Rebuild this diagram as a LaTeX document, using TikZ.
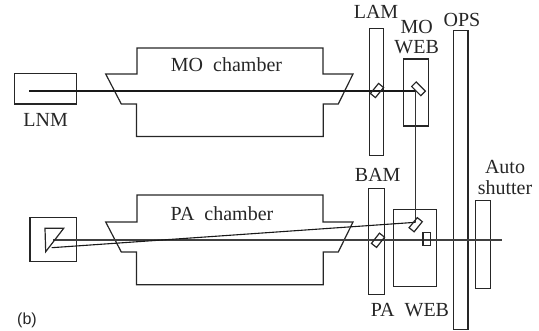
\documentclass[tikz,border=0pt]{standalone}
\usepackage{fontspec}
\setmainfont{Liberation Serif}
\newfontfamily\labelsans{Liberation Sans}
\tikzset{
  part/.style={draw=black!85,line width=1.2pt,inner sep=0pt,outer sep=0pt,fill=none},
  mirror/.style={part,minimum width=13pt,minimum height=6.5pt},
  chamber/.style={draw=black!85,line width=1.2pt,line join=miter},
  beam/.style={draw=black!90,line width=1.8pt},
  pabeam/.style={draw=black!75,line width=1.4pt},
  slantbeam/.style={draw=black!90,line width=1.1pt},
  thinbeam/.style={draw=black!80,line width=1pt},
  lbl/.style={inner sep=0pt,font=\fontsize{20}{20}\selectfont,text=black!85},
}
\begin{document}
\begin{tikzpicture}[x=1pt,y=-1pt]
\useasboundingbox (0,0) rectangle (539,331);
% chambers
\draw[chamber] (137,74) -- (137,48) -- (323,48) -- (323,74) -- (353,74) -- (338.3,104) -- (323.3,104) -- (323.3,136.5) -- (136.5,136.5) -- (136.5,104) -- (121.3,104) -- (105.7,74) -- cycle;
\draw[chamber] (137,222) -- (137,195) -- (323,195) -- (323,222) -- (353,222) -- (338.3,252) -- (323.3,252) -- (323.3,284.7) -- (136.5,284.7) -- (136.5,252) -- (121.3,252) -- (105.7,222) -- cycle;
% boxes
\node[part,minimum width=61.6pt,minimum height=30.7pt] (lnm) at (45.5,88.7) {};
\node[part,minimum width=13.6pt,minimum height=127pt] (lam) at (376.5,91.8) {};
\node[part,minimum width=25pt,minimum height=67pt] (moweb) at (416,92.5) {};
\node[part,minimum width=14.7pt,minimum height=298.6pt] (ops) at (460.7,180) {};
\node[part,minimum width=15pt,minimum height=87.6pt] (shutter) at (482.8,244.5) {};
\node[part,minimum width=16.4pt,minimum height=105.6pt] (bam) at (376.5,241.5) {};
\node[part,minimum width=43pt,minimum height=77pt] (paweb) at (415,247.9) {};
\node[part,minimum width=46.3pt,minimum height=44pt] (retro) at (53.2,239.7) {};
% beam ends
\coordinate (lnmstart) at (29.3,90.7);
\coordinate (moturn) at (415.7,90.7);
\coordinate (paturn) at (415.7,222.3);
\coordinate (pastart) at (53,240.1);
\coordinate (paend) at (502,240.1);
\coordinate (retrotip) at (51.7,247.7);
% beams
\draw[beam] (lnmstart) -- (moturn);
\draw[thinbeam] (moturn) -- (paturn);
\draw[pabeam] (pastart) -- (paend);
\draw[slantbeam] (retrotip) -- (paturn);
% retro prism
\draw[part] (45,228.3) -- (63.7,228.3) -- (45.7,251.7) -- cycle;
% mirrors
\node[mirror,rotate=51] (m1) at (377,90.5) {};
\node[mirror,rotate=-45] (m2) at (418.5,88.8) {};
\node[mirror,rotate=52] (m3) at (378,240.3) {};
\node[mirror,rotate=51] (m4) at (415.7,224.7) {};
\node[part,minimum width=7.3pt,minimum height=13pt] (shut) at (426.7,239.2) {};
% labels
\node[lbl] (t1) at (45.7,120) {LNM};
\node[lbl] (t2) at (226.5,65) {MO\ \ chamber};
\node[lbl] (t3) at (222,214) {PA\ \ chamber};
\node[lbl] (t4) at (376,12) {LAM};
\node[lbl] (t5) at (416.7,27) {MO};
\node[lbl] (t6) at (416.7,47.5) {WEB};
\node[lbl] (t7) at (462,19.5) {OPS};
\node[lbl] (t8) at (377.7,175) {BAM};
\node[lbl] (t9) at (410,310.5) {PA\ \ WEB};
\node[lbl] (t10) at (505,167) {Auto};
\node[lbl] (t11) at (505,188) {shutter};
\node[lbl,font=\labelsans\fontsize{16}{16}\selectfont] (t12) at (27,320.5) {(b)};
\end{tikzpicture}
\end{document}
